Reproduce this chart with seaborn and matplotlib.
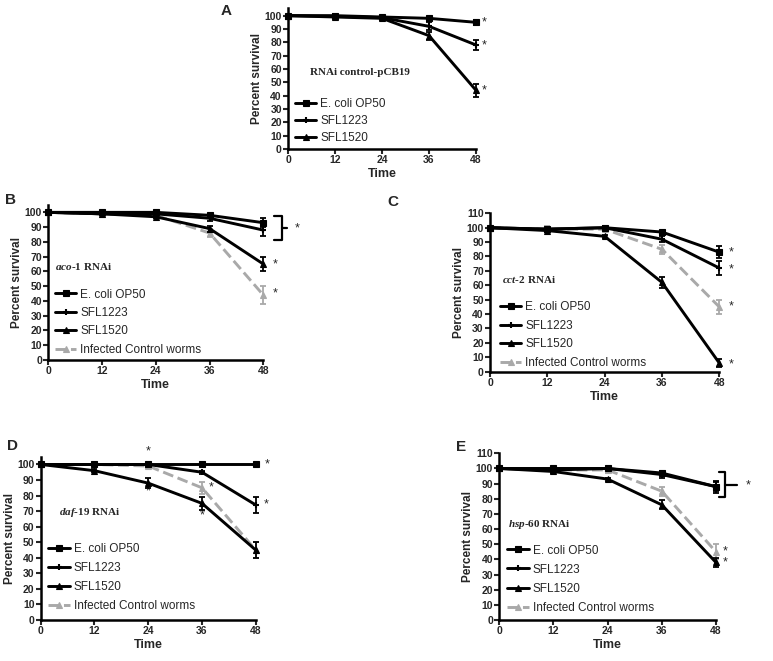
import numpy as np
import pandas as pd
import seaborn as sns
import matplotlib.pyplot as plt

# time points (hours)
times = [0, 12, 24, 36, 48]

# panel A - RNAi control-pCB19
a_op50 = [100, 100, 99, 98, 95]
a_sfl1223 = [100, 99.5, 98.5, 92, 78]
a_sfl1520 = [100, 99, 98, 85, 44]
a_op50_err = [0, 1, 1, 1, 2]
a_sfl1223_err = [0, 1, 1, 3, 4]
a_sfl1520_err = [0, 1, 1, 3, 5]

# panel B - aco-1 RNAi
b_op50 = [100, 100, 100, 98, 93]
b_sfl1223 = [100, 99, 99, 96, 88]
b_sfl1520 = [100, 99, 97, 89, 65]
b_infected = [100, 99, 98, 86, 44]
b_op50_err = [0, 1, 1, 1, 3]
b_sfl1223_err = [0, 1, 1, 2, 4]
b_sfl1520_err = [0, 1, 1, 2, 5]
b_infected_err = [0, 2, 2, 3, 6]

# panel C - cct-2 RNAi
c_op50 = [100, 99, 100, 97, 83]
c_sfl1223 = [100, 99, 100, 92, 72]
c_sfl1520 = [100, 98, 94, 62, 6]
c_infected = [100, 99, 99, 85, 45]
c_op50_err = [0, 1, 1, 1, 4]
c_sfl1223_err = [0, 1, 1, 2, 5]
c_sfl1520_err = [0, 1, 1, 4, 3]
c_infected_err = [0, 2, 1, 3, 5]

# panel D - daf-19 RNAi
d_op50 = [100, 100, 100, 100, 100]
d_sfl1223 = [100, 100, 100, 95, 74]
d_sfl1520 = [100, 96, 88, 75, 45]
d_infected = [100, 100, 99, 85, 45]
d_op50_err = [0, 1, 1, 1, 1]
d_sfl1223_err = [0, 1, 1, 1, 5]
d_sfl1520_err = [0, 1, 3, 4, 5]
d_infected_err = [0, 1, 1, 4, 5]

# panel E - hsp-60 RNAi
e_op50 = [100, 100, 100, 97, 88]
e_sfl1223 = [100, 99, 100, 96, 88]
e_sfl1520 = [100, 98, 93, 76, 38]
e_infected = [100, 99, 99, 85, 45]
e_op50_err = [0, 1, 1, 1, 4]
e_sfl1223_err = [0, 1, 1, 2, 3]
e_sfl1520_err = [0, 1, 1, 3, 3]
e_infected_err = [0, 2, 2, 3, 5]

series_names = ["E. coli OP50", "SFL1223", "SFL1520", "Infected Control worms"]

sns.set_style("ticks")
plt.rcParams["font.family"] = ["Liberation Sans", "DejaVu Sans"]
plt.rcParams["mathtext.fontset"] = "custom"
plt.rcParams["mathtext.it"] = "Liberation Serif:italic:bold"
plt.rcParams["mathtext.rm"] = "Liberation Serif:bold"

# style for each series: color, marker, markersize, linestyle
styles = {
    "E. coli OP50": ("black", "s", 4, "-"),
    "SFL1223": ("black", "+", 5, "-"),
    "SFL1520": ("black", "^", 5, "-"),
    "Infected Control worms": ("#a9a9a9", "^", 4, "--"),
}


def draw_panel(ax, vals, errs, ymax, ytop, note, legend_anchor, spacing):
    """Draw one survival panel with error bars"""
    # infected control first so black lines sit on top
    order = list(range(len(vals)))[::-1]
    for i in order:
        name = series_names[i]
        col, mk, ms, ls = styles[name]
        df = pd.DataFrame({"Time": times, "Survival": vals[i]})
        sns.lineplot(data=df, x="Time", y="Survival", ax=ax, color=col,
                     marker=mk, markersize=ms, markeredgewidth=1.5 if mk == "+" else 0.8,
                     markeredgecolor=col, linestyle=ls, linewidth=2.1,
                     label=name, clip_on=False, zorder=3 + (3 - i))
        ax.errorbar(times, vals[i], yerr=errs[i], fmt="none", ecolor=col,
                    elinewidth=1.3, capsize=2.5, capthick=1.3, clip_on=False,
                    zorder=3 + (3 - i))

    ax.set_xlim(0, 48)
    ax.set_ylim(0, ytop)
    ax.set_xticks(times)
    ax.set_yticks(np.arange(0, ymax + 1, 10))
    ax.tick_params(direction="out", length=3.5, width=1.5, labelsize=7.5, pad=1)
    for lab in ax.get_xticklabels() + ax.get_yticklabels():
        lab.set_fontweight("bold")
    for sp in ["left", "bottom"]:
        ax.spines[sp].set_linewidth(1.8)
        ax.spines[sp].set_color("black")
    sns.despine(ax=ax)
    ax.set_xlabel("Time", fontsize=9, fontweight="bold", labelpad=2)
    ax.set_ylabel("Percent survival", fontsize=8.5, fontweight="bold", labelpad=1)

    ax.text(note[0], note[1], note[2], fontsize=8, fontfamily="Liberation Serif",
            fontweight="bold", va="center", ha="left")

    handles, labels = ax.get_legend_handles_labels()
    idx = [labels.index(n) for n in series_names if n in labels]
    ax.legend([handles[j] for j in idx], [labels[j] for j in idx],
              loc="upper left", bbox_to_anchor=legend_anchor, frameon=False,
              fontsize=8.5, handlelength=1.8, handletextpad=0.35,
              labelspacing=spacing, borderpad=0, borderaxespad=0, numpoints=1)


def star(ax, x, y):
    ax.text(x, y, "*", fontsize=9, ha="center", va="center", clip_on=False)


def bracket(ax, x0, x1, x2, ytop, ybot):
    ymid = (ytop + ybot) / 2
    ax.plot([x0, x1, x1, x0], [ytop, ytop, ybot, ybot], color="black",
            linewidth=1.6, clip_on=False)
    ax.plot([x1, x2], [ymid, ymid], color="black", linewidth=1.6, clip_on=False)


fig = plt.figure(figsize=(7.73, 6.61), dpi=100)

ax_a = fig.add_axes([0.3726, 0.7746, 0.2432, 0.2128])
ax_b = fig.add_axes([0.0625, 0.4554, 0.2781, 0.2345])
ax_c = fig.add_axes([0.6339, 0.4377, 0.2966, 0.2396])
ax_d = fig.add_axes([0.0527, 0.0620, 0.2781, 0.2471])
ax_e = fig.add_axes([0.6459, 0.0620, 0.2803, 0.2522])

draw_panel(ax_a, [a_op50, a_sfl1223, a_sfl1520],
           [a_op50_err, a_sfl1223_err, a_sfl1520_err],
           100, 105.5, (5.6, 57, "RNAi control-pCB19"), (0.037, 0.359), 0.42)
draw_panel(ax_b, [b_op50, b_sfl1223, b_sfl1520, b_infected],
           [b_op50_err, b_sfl1223_err, b_sfl1520_err, b_infected_err],
           100, 105, (1.5, 63, r"$\it{aco}$-1 RNAi"), (0.031, 0.461), 0.54)
draw_panel(ax_c, [c_op50, c_sfl1223, c_sfl1520, c_infected],
           [c_op50_err, c_sfl1223_err, c_sfl1520_err, c_infected_err],
           110, 110, (2.5, 64, r"$\it{cct}$-2 RNAi"), (0.044, 0.445), 0.55)
draw_panel(ax_d, [d_op50, d_sfl1223, d_sfl1520, d_infected],
           [d_op50_err, d_sfl1223_err, d_sfl1520_err, d_infected_err],
           100, 105, (4, 69, r"$\it{daf}$-19 RNAi"), (0.035, 0.473), 0.6)
draw_panel(ax_e, [e_op50, e_sfl1223, e_sfl1520, e_infected],
           [e_op50_err, e_sfl1223_err, e_sfl1520_err, e_infected_err],
           110, 110, (2, 63, r"$\it{hsp}$-60 RNAi"), (0.037, 0.453), 0.6)

# significance stars
for y in [95, 78, 44]:
    star(ax_a, 50.2, y)
bracket(ax_b, 50.4, 52.1, 53.4, 97.8, 81.5)
star(ax_b, 55.6, 89)
star(ax_b, 50.6, 65)
star(ax_b, 50.6, 45)
for y in [83, 71, 45, 5]:
    star(ax_c, 50.4, y)
star(ax_d, 24, 108.5)
star(ax_d, 24, 82.5)
star(ax_d, 36, 67.5)
star(ax_d, 38, 85)
star(ax_d, 50.5, 100)
star(ax_d, 50.3, 74)
bracket(ax_e, 48.6, 50.1, 52.6, 97.4, 81.3)
star(ax_e, 55.2, 89)
star(ax_e, 50.1, 45)
star(ax_e, 50.1, 38)

# panel letters
for lab, x, y in [("A", 226, 11), ("B", 10, 200), ("C", 393, 202),
                  ("D", 12, 446), ("E", 461, 447)]:
    fig.text(x / 773, 1 - y / 661, lab, fontsize=11, fontweight="bold",
             ha="center", va="center")

fig.savefig("out.png", dpi=100)
